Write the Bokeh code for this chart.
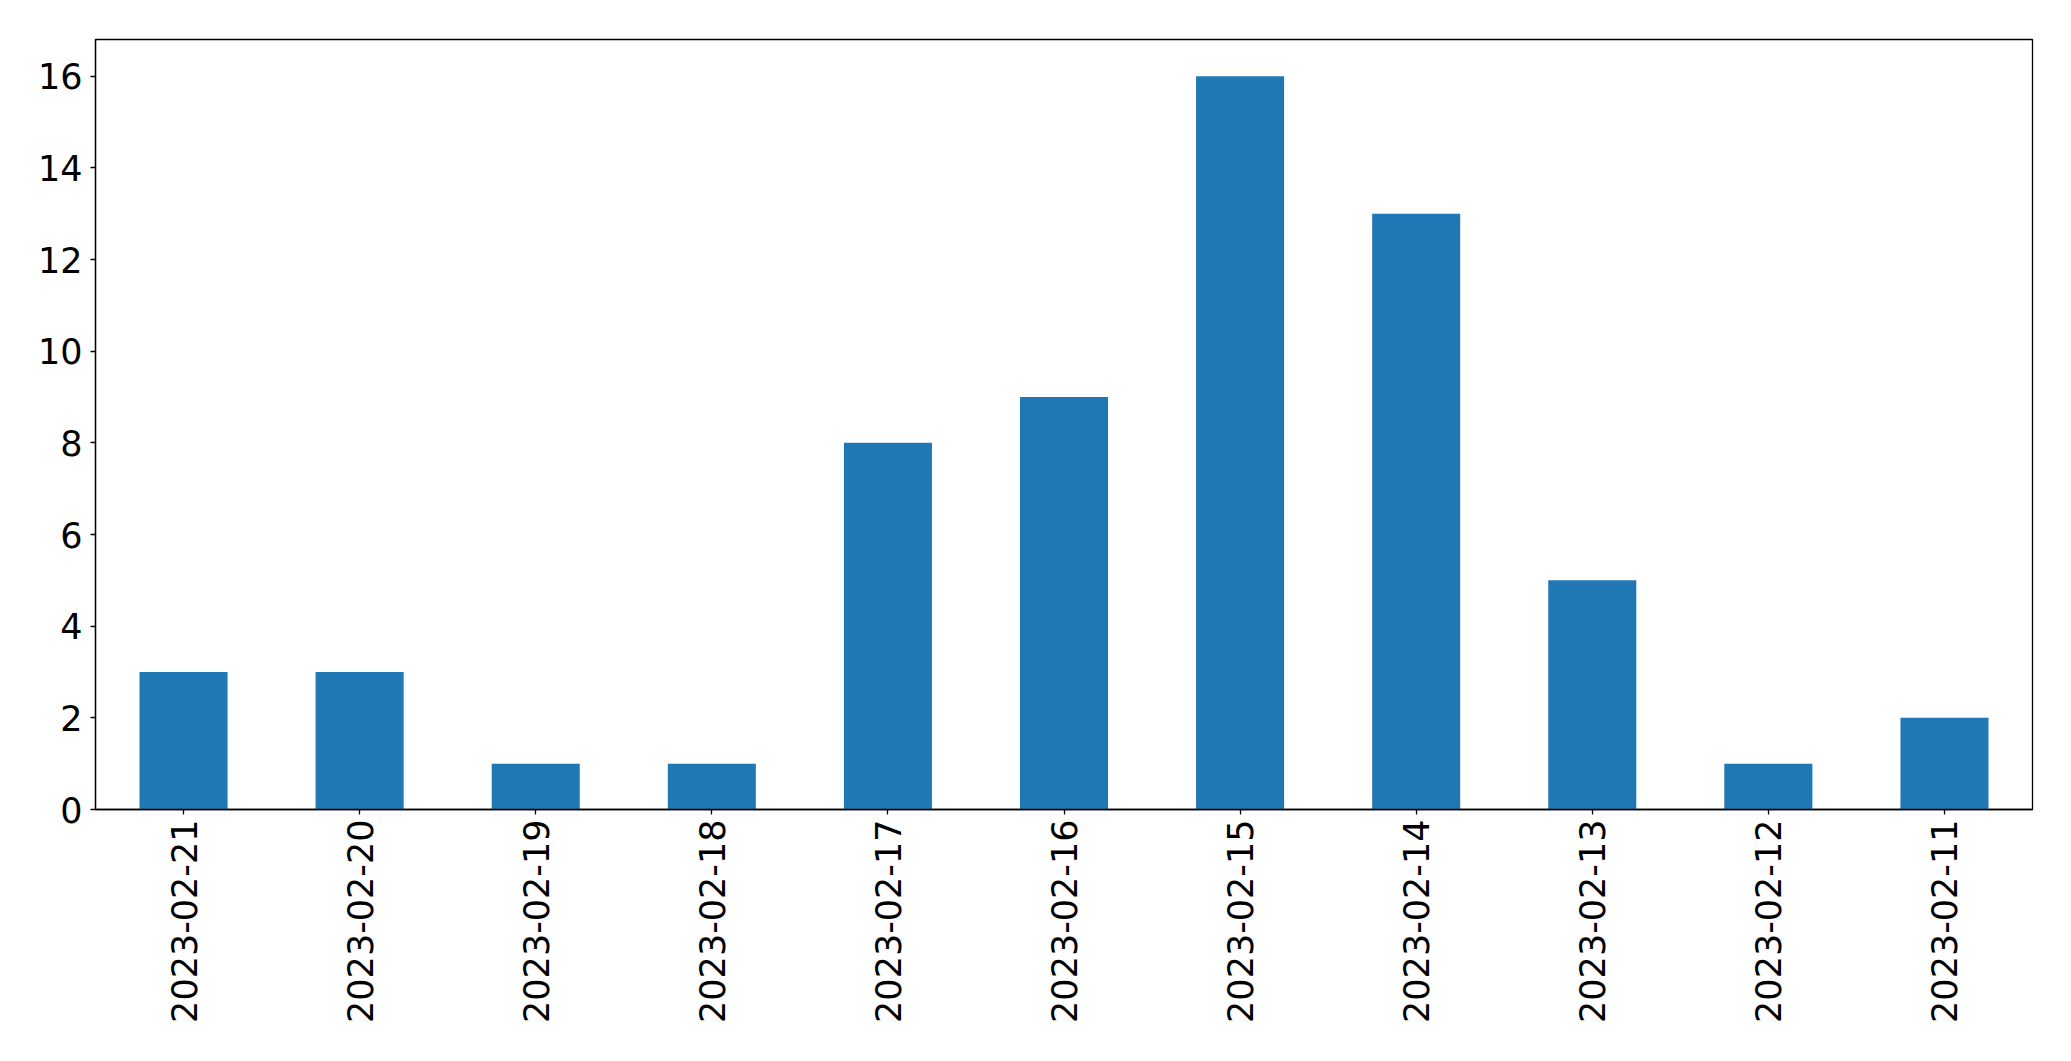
import math
from bokeh.plotting import figure
from bokeh.models import FactorRange, Range1d, SingleIntervalTicker
from bokeh.embed import file_html
from bokeh.resources import INLINE

dates = ["2023-02-21", "2023-02-20", "2023-02-19", "2023-02-18", "2023-02-17",
         "2023-02-16", "2023-02-15", "2023-02-14", "2023-02-13", "2023-02-12",
         "2023-02-11"]
counts = [3, 3, 1, 1, 8, 9, 16, 13, 5, 1, 2]

p = figure(width=2055, height=1045, output_backend="svg", toolbar_location=None,
           x_range=FactorRange(factors=dates, range_padding=0),
           y_range=Range1d(0, 16.8),
           min_border_left=95, min_border_right=23, min_border_top=39,
           min_border_bottom=236)

p.vbar(x=dates, top=counts, width=0.5, fill_color="#1f77b4", line_color=None)

p.xgrid.visible = False
p.ygrid.visible = False
p.outline_line_color = "black"
p.outline_line_width = 1.3
p.outline_line_alpha = 1.0
p.background_fill_color = "white"
p.border_fill_color = "white"

p.yaxis.ticker = SingleIntervalTicker(interval=2)
for ax in (p.xaxis[0], p.yaxis[0]):
    ax.major_label_text_font = "DejaVu Sans"
    ax.major_label_text_font_size = "35px"
    ax.major_label_text_color = "black"
    ax.axis_line_color = "black"
    ax.axis_line_width = 1.3
    ax.major_tick_line_color = "black"
    ax.major_tick_line_width = 1.3
    ax.major_tick_in = 0
    ax.major_tick_out = 5
    ax.minor_tick_line_color = None

p.yaxis.major_label_standoff = 8
p.xaxis.major_label_standoff = 5
p.xaxis.major_label_orientation = math.pi / 2

open("out.html", "w").write(file_html(p, INLINE))
